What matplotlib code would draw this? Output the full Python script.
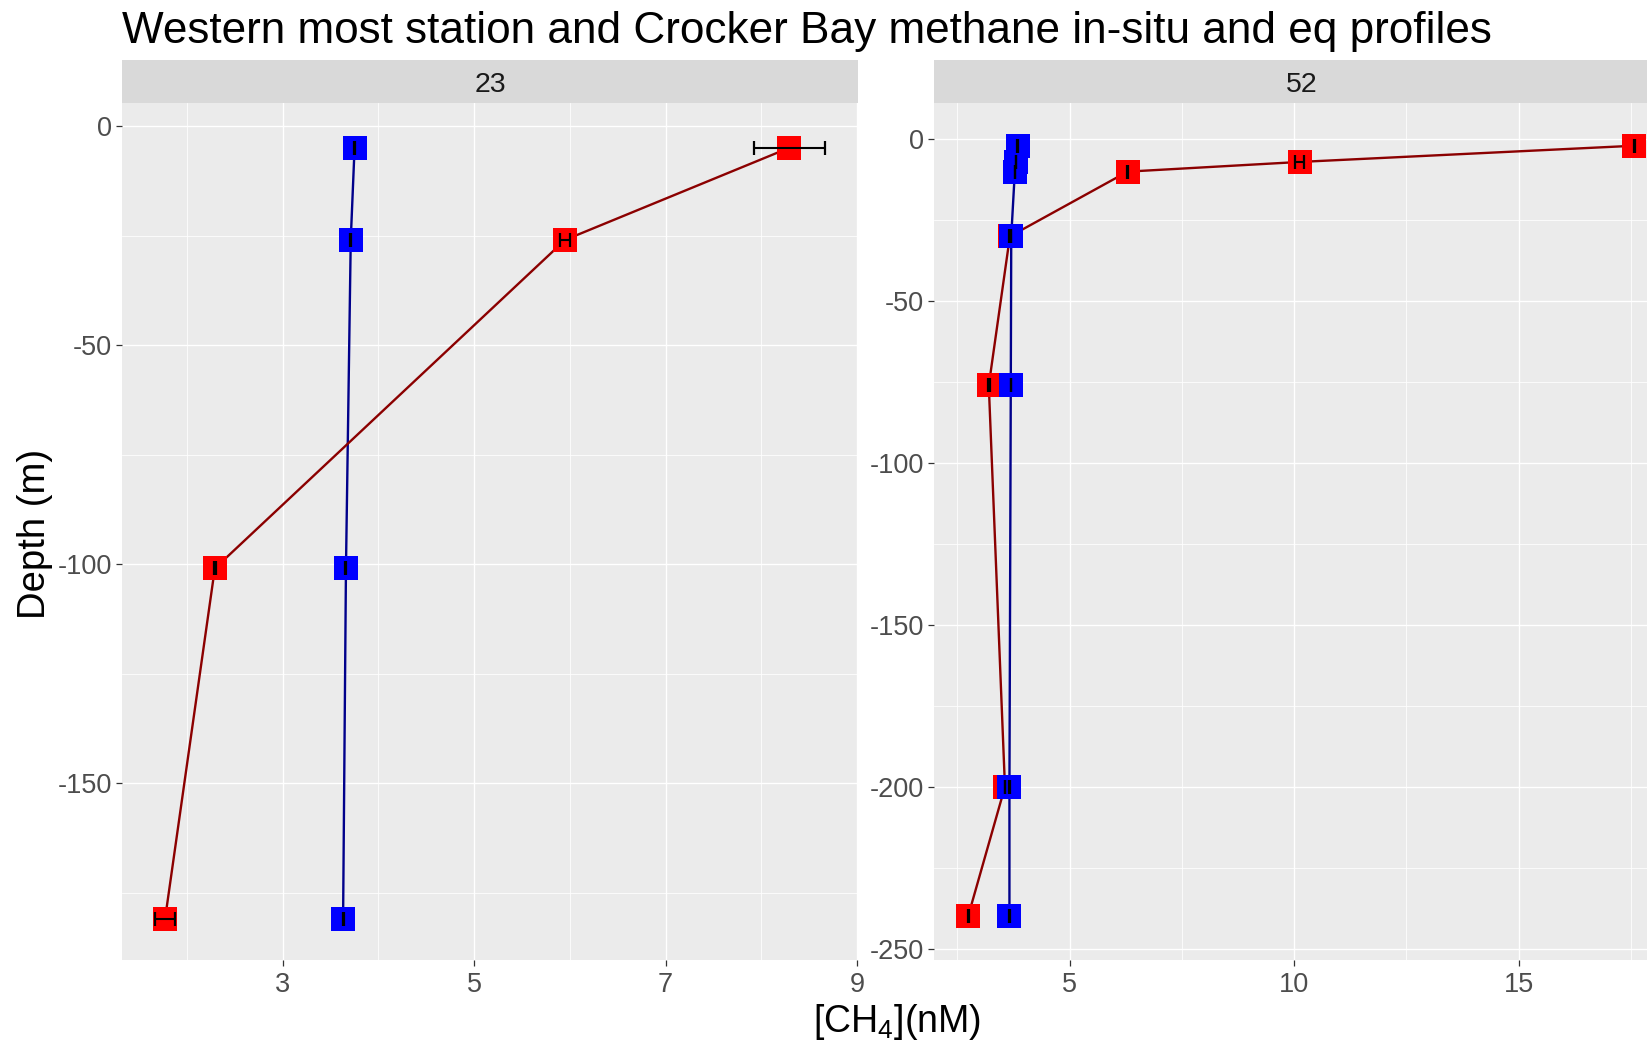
import matplotlib
matplotlib.use("Agg")
import matplotlib.pyplot as plt
from matplotlib.ticker import MultipleLocator

plt.rcParams['font.family'] = ['Liberation Sans', 'DejaVu Sans']
plt.rcParams['mathtext.fontset'] = 'custom'
plt.rcParams['mathtext.rm'] = 'Liberation Sans'
plt.rcParams['mathtext.it'] = 'Liberation Sans'
plt.rcParams['mathtext.default'] = 'rm'
plt.rcParams['axes.unicode_minus'] = False

# ---------------- data ----------------
title = "Western most station and Crocker Bay methane in-situ and eq profiles"
stations = ["23", "52"]

depth23 = [-5, -26, -101, -181]
insitu23 = [8.29, 5.95, 2.29, 1.77]
insitu23_err = [0.37, 0.05, 0.01, 0.10]
eq23 = [3.75, 3.71, 3.66, 3.63]
eq23_err = [0.005, 0.005, 0.005, 0.005]

depth52 = [-2, -7, -10, -30, -76, -200, -240]
insitu52 = [17.57, 10.13, 6.29, 3.67, 3.20, 3.56, 2.74]
insitu52_err = [0.01, 0.10, 0.01, 0.01, 0.02, 0.01, 0.01]
eq52 = [3.84, 3.80, 3.78, 3.70, 3.69, 3.66, 3.66]
eq52_err = [0.005, 0.005, 0.005, 0.005, 0.005, 0.005, 0.005]

xticks23 = [3, 5, 7, 9]
xticks52 = [5, 10, 15]
yticks23 = [0, -50, -100, -150]
yticks52 = [0, -50, -100, -150, -200, -250]

# ---------------- figure ----------------
W, H = 1647, 1044
fig = plt.figure(figsize=(W / 100, H / 100), dpi=100)

def fx(px):
    return px / W

def fy(py):
    return 1 - py / H

panel_w = 736
panel_top, panel_bot = 103, 960
strip_top = 60

panels = [
    dict(left=122, depth=depth23, ins=insitu23, ins_e=insitu23_err, eq=eq23, eq_e=eq23_err,
         xlim=(1.32, 9.01), ylim=(-190.4, 5.25), xt=xticks23, yt=yticks23, xminor=1.0, label=stations[0]),
    dict(left=934, depth=depth52, ins=insitu52, ins_e=insitu52_err, eq=eq52, eq_e=eq52_err,
         xlim=(1.98, 18.37), ylim=(-253.5, 11.2), xt=xticks52, yt=yticks52, xminor=2.5, label=stations[1]),
]

for p in panels:
    ax = fig.add_axes([fx(p['left']), fy(panel_bot), panel_w / W, (panel_bot - panel_top) / H])
    ax.set_facecolor('#EBEBEB')
    for s in ax.spines.values():
        s.set_visible(False)
    ax.set_xlim(*p['xlim'])
    ax.set_ylim(*p['ylim'])
    ax.set_xticks(p['xt'])
    ax.set_yticks(p['yt'])
    ax.xaxis.set_minor_locator(MultipleLocator(p['xminor']))
    ax.yaxis.set_minor_locator(MultipleLocator(25))
    ax.grid(True, which='major', color='white', linewidth=1.0)
    ax.grid(True, which='minor', color='white', linewidth=0.55)
    ax.set_axisbelow(True)
    ax.tick_params(which='major', length=4.5, width=0.9, color='#333333',
                   labelsize=19.5, labelcolor='#4D4D4D', pad=2.5)
    ax.tick_params(axis='x', which='major', pad=4.5)
    ax.tick_params(which='minor', length=0)

    ax.plot(p['eq'], p['depth'], color='#00008B', linewidth=1.7, zorder=2)
    ax.plot(p['ins'], p['depth'], color='#8B0000', linewidth=1.7, zorder=2)
    ax.plot(p['ins'], p['depth'], linestyle='none', marker='s', markersize=17,
            markerfacecolor='#FF0000', markeredgewidth=0, zorder=3)
    ax.plot(p['eq'], p['depth'], linestyle='none', marker='s', markersize=17,
            markerfacecolor='#0000FF', markeredgewidth=0, zorder=4)
    ax.errorbar(p['ins'], p['depth'], xerr=p['ins_e'], fmt='none', ecolor='black',
                elinewidth=1.5, capsize=5, capthick=1.6, zorder=5)
    ax.errorbar(p['eq'], p['depth'], xerr=p['eq_e'], fmt='none', ecolor='black',
                elinewidth=1.5, capsize=5, capthick=1.6, zorder=5)

    sax = fig.add_axes([fx(p['left']), fy(panel_top), panel_w / W, (panel_top - strip_top) / H])
    sax.set_facecolor('#D9D9D9')
    sax.set_xticks([])
    sax.set_yticks([])
    for s in sax.spines.values():
        s.set_visible(False)
    sax.text(0.5, 0.42, p['label'], transform=sax.transAxes, ha='center', va='center',
             fontsize=20.5, color='#1A1A1A')

fig.text(fx(122), fy(42.7), title, ha='left', va='baseline', fontsize=31.8, color='black')
fig.text(fx(897), fy(1031.7), r'[CH$_4$](nM)', ha='center', va='baseline', fontsize=27, color='black')
fig.text(fx(45), fy(533.5), 'Depth (m)', ha='center', va='baseline', rotation=90,
         rotation_mode='anchor', fontsize=27.5, color='black')

fig.savefig('out.png', dpi=100)
